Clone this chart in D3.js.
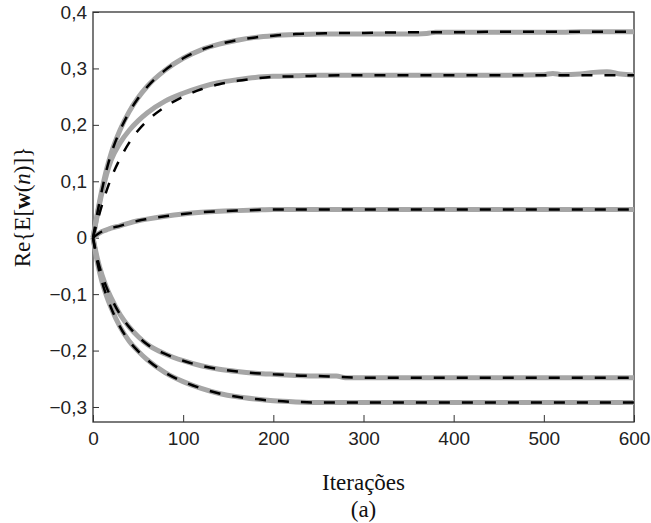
<!DOCTYPE html>
<html>
<head>
<meta charset="utf-8">
<script src="https://cdn.jsdelivr.net/npm/d3@7"></script>
<style>
  body { margin: 0; background: #fff; }
  svg { display: block; }
  .tick text { font-family: "Liberation Sans", Arial, sans-serif; font-size: 19px; fill: #222; }
  .lbl { font-family: "Liberation Serif", "Times New Roman", serif; font-size: 23px; fill: #111; }
</style>
</head>
<body>
<div id="chart"></div>
<script>
var iters = [0, 5, 10, 15, 20, 30, 40, 50, 60, 80, 100, 120, 140, 160, 180, 200, 225, 250, 275, 300, 350, 400, 450, 500, 550, 600];

// theory (black dashed)
var theo1 = [0, 0.045, 0.085, 0.12, 0.148, 0.19, 0.222, 0.247, 0.267, 0.297, 0.318, 0.333, 0.343, 0.35, 0.355, 0.358, 0.361, 0.362, 0.363, 0.363, 0.364, 0.364, 0.365, 0.365, 0.365, 0.365];
var theo2 = [0, 0.03, 0.058, 0.083, 0.105, 0.14, 0.168, 0.19, 0.207, 0.232, 0.25, 0.263, 0.272, 0.278, 0.282, 0.285, 0.286, 0.287, 0.288, 0.288, 0.288, 0.288, 0.288, 0.288, 0.288, 0.288];
var theo3 = [0, 0.006, 0.011, 0.014, 0.017, 0.021, 0.026, 0.03, 0.033, 0.038, 0.042, 0.045, 0.047, 0.048, 0.049, 0.05, 0.05, 0.05, 0.05, 0.05, 0.05, 0.05, 0.05, 0.05, 0.05, 0.05];
var theo4 = [0, -0.038, -0.066, -0.088, -0.106, -0.136, -0.158, -0.175, -0.189, -0.206, -0.218, -0.227, -0.233, -0.237, -0.24, -0.242, -0.244, -0.245, -0.247, -0.248, -0.248, -0.248, -0.248, -0.248, -0.248, -0.248];
var theo5 = [0, -0.045, -0.078, -0.103, -0.124, -0.158, -0.183, -0.201, -0.216, -0.239, -0.255, -0.267, -0.276, -0.282, -0.286, -0.289, -0.291, -0.292, -0.292, -0.292, -0.292, -0.292, -0.292, -0.292, -0.292, -0.292];

// simulation (gray), read at its own iterations
var simIters = [0, 5, 10, 15, 20, 30, 40, 50, 60, 80, 100, 120, 140, 160, 180, 200, 225, 250, 270, 280, 300, 350, 370, 380, 400, 450, 500, 510, 520, 540, 555, 570, 585, 600];
var sim1 = [0, 0.045, 0.086, 0.121, 0.149, 0.191, 0.223, 0.248, 0.268, 0.297, 0.318, 0.333, 0.343, 0.35, 0.355, 0.358, 0.36, 0.361, 0.361, 0.361, 0.361, 0.361, 0.362, 0.364, 0.364, 0.364, 0.364, 0.364, 0.364, 0.365, 0.365, 0.365, 0.365, 0.365];
var sim2 = [0, 0.042, 0.08, 0.112, 0.137, 0.168, 0.19, 0.207, 0.221, 0.242, 0.256, 0.267, 0.275, 0.28, 0.284, 0.286, 0.287, 0.288, 0.288, 0.288, 0.288, 0.288, 0.288, 0.288, 0.288, 0.288, 0.289, 0.291, 0.289, 0.29, 0.293, 0.294, 0.29, 0.288];
var sim3 = [0, 0.006, 0.011, 0.014, 0.017, 0.021, 0.026, 0.03, 0.033, 0.038, 0.042, 0.045, 0.047, 0.048, 0.049, 0.05, 0.05, 0.05, 0.05, 0.05, 0.05, 0.05, 0.05, 0.05, 0.05, 0.05, 0.05, 0.05, 0.05, 0.05, 0.05, 0.05, 0.05, 0.05];
var sim4 = [0, -0.038, -0.066, -0.088, -0.106, -0.136, -0.158, -0.175, -0.189, -0.206, -0.218, -0.227, -0.233, -0.237, -0.24, -0.242, -0.244, -0.245, -0.245, -0.248, -0.248, -0.248, -0.248, -0.248, -0.248, -0.248, -0.248, -0.248, -0.248, -0.248, -0.248, -0.248, -0.248, -0.248];
var sim5 = [0, -0.045, -0.078, -0.103, -0.124, -0.158, -0.183, -0.201, -0.216, -0.239, -0.255, -0.267, -0.276, -0.282, -0.286, -0.289, -0.291, -0.292, -0.292, -0.292, -0.292, -0.292, -0.292, -0.292, -0.292, -0.292, -0.292, -0.292, -0.292, -0.292, -0.292, -0.292, -0.292, -0.292];

var xTicks = [0, 100, 200, 300, 400, 500, 600];
var yTicks = [-0.3, -0.2, -0.1, 0, 0.1, 0.2, 0.3, 0.4];

var W = 651, H = 523;
var margin = {top: 12, right: 17, bottom: 101, left: 93};
var width = W - margin.left - margin.right,
    height = H - margin.top - margin.bottom;

var svg = d3.select("#chart").append("svg")
    .attr("width", W)
    .attr("height", H);

var g = svg.append("g")
    .attr("transform", "translate(" + margin.left + "," + margin.top + ")");

var x = d3.scaleLinear().domain([0, 600]).range([0, width]);
var y = d3.scaleLinear().domain([-0.3266, 0.4]).range([height, 0]);

// decimal comma
var fmt = function(d) { return d === 0 ? "0" : d3.format(".1f")(d).replace(".", ","); };

// axes, ticks inward
var xAxis = d3.axisBottom(x).tickValues(xTicks).tickSizeInner(-7).tickSizeOuter(0).tickPadding(10);
var yAxis = d3.axisLeft(y).tickValues(yTicks).tickSizeInner(-6).tickSizeOuter(0).tickPadding(6).tickFormat(fmt);

g.append("g").attr("transform", "translate(0," + height + ")").call(xAxis);
g.append("g").call(yAxis);
g.selectAll(".domain").remove();
g.selectAll(".tick line").attr("stroke", "#333");

// frame
g.append("rect")
    .attr("x", 0).attr("y", 0)
    .attr("width", width).attr("height", height)
    .attr("fill", "none").attr("stroke", "#333").attr("stroke-width", 1.3);

var line = d3.line()
    .x(function(d) { return x(d[0]); })
    .y(function(d) { return y(d[1]); })
    .curve(d3.curveMonotoneX);

function pairs(xs, ys) { return xs.map(function(v, i) { return [v, ys[i]]; }); }

var sims = [sim1, sim2, sim3, sim4, sim5];
var theos = [theo1, theo2, theo3, theo4, theo5];

g.selectAll(".sim").data(sims).enter().append("path")
    .attr("class", "sim")
    .attr("d", function(d) { return line(pairs(simIters, d)); })
    .attr("fill", "none")
    .attr("stroke", "#a6a6a6")
    .attr("stroke-width", 5)
    .attr("stroke-linejoin", "round");

g.selectAll(".theo").data(theos).enter().append("path")
    .attr("class", "theo")
    .attr("d", function(d) { return line(pairs(iters, d)); })
    .attr("fill", "none")
    .attr("stroke", "#000")
    .attr("stroke-width", 2.5)
    .attr("stroke-dasharray", "11,12");

// labels
svg.append("text").attr("class", "lbl")
    .attr("x", margin.left + width / 2).attr("y", 490)
    .attr("text-anchor", "middle")
    .text("Iterações");

svg.append("text").attr("class", "lbl")
    .attr("x", margin.left + width / 2).attr("y", 517)
    .attr("text-anchor", "middle")
    .text("(a)");

var yl = svg.append("text").attr("class", "lbl")
    .attr("transform", "translate(30,207) rotate(-90)")
    .attr("text-anchor", "middle");
yl.append("tspan").text("Re{E[");
yl.append("tspan").attr("font-weight", "bold").text("w");
yl.append("tspan").text("(");
yl.append("tspan").attr("font-style", "italic").text("n");
yl.append("tspan").text(")]}");
</script>
</body>
</html>
